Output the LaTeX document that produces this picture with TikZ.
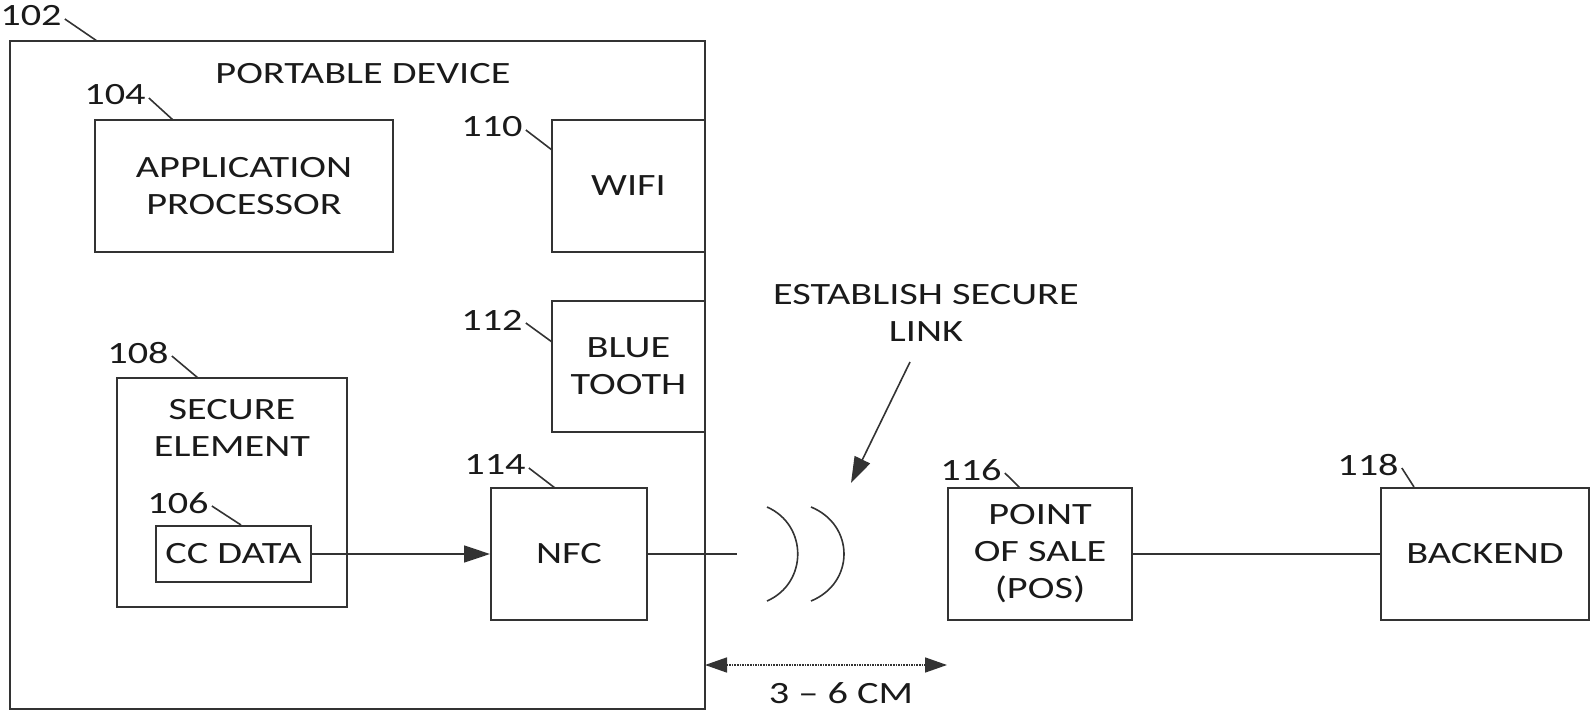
\documentclass[tikz,border=0pt]{standalone}
\usepackage{fontspec}
\setmainfont{Carlito}[FakeStretch=1.3]
\usetikzlibrary{arrows.meta}
\definecolor{ln}{HTML}{333333}
\definecolor{tx}{HTML}{1A1A1A}
\tikzset{
 box/.style={draw=ln, line width=2pt, inner sep=0pt, align=center, text=tx, font=\fontsize{31}{37}\selectfont},
 lbl/.style={inner sep=0pt, align=center, text=tx, font=\fontsize{31}{37}\selectfont},
 lead/.style={draw=ln, line width=1.6pt},
 conn/.style={draw=ln, line width=1.6pt},
 arr/.style={conn, -{Triangle[length=26pt,width=17pt]}},
 darr/.style={conn, densely dotted, {Triangle[length=22pt,width=15pt]}-{Triangle[length=22pt,width=15pt]}},
}
\begin{document}
\begin{tikzpicture}[x=1pt,y=-1pt]
\useasboundingbox (0,0) rectangle (1595,714);
% boxes
\node[box, minimum width=695pt, minimum height=668pt] (outer) at (357.5,375) {};
\node[lbl] (pd) at (363,74) {PORTABLE DEVICE};
\node[box, minimum width=298pt, minimum height=132pt] (ap) at (244,186) {APPLICATION\\PROCESSOR};
\node[box, minimum width=153pt, minimum height=132pt] (wifi) at (628.5,186) {WIFI};
\node[box, minimum width=153pt, minimum height=131pt] (bt) at (628.5,366.5) {BLUE\\TOOTH};
\node[box, minimum width=230pt, minimum height=229pt] (se) at (232,492.5) {};
\node[lbl] (setext) at (232,428) {SECURE\\ELEMENT};
\node[box, minimum width=155pt, minimum height=56pt] (cc) at (233.5,554) {CC DATA};
\node[box, minimum width=156pt, minimum height=132pt] (nfc) at (569,554) {NFC};
\node[box, minimum width=184pt, minimum height=132pt] (pos) at (1040,554) {POINT\\OF SALE\\(POS)};
\node[box, minimum width=208pt, minimum height=132pt] (be) at (1485,554) {BACKEND};
% reference labels
\node[lbl] (l102) at (31,16) {102};
\node[lbl] (l104) at (115,95) {104};
\node[lbl] (l110) at (492,127) {110};
\node[lbl] (l112) at (492,320) {112};
\node[lbl] (l108) at (138,353) {108};
\node[lbl] (l106) at (178,503) {106};
\node[lbl] (l114) at (495,465) {114};
\node[lbl] (l116) at (971,470) {116};
\node[lbl] (l118) at (1368,465) {118};
% leader ends
\coordinate (c102) at (97,41);
\coordinate (c104) at (173,120);
\coordinate (c110) at (552,150);
\coordinate (c112) at (552,342);
\coordinate (c108) at (198,378);
\coordinate (c106) at (241,525);
\coordinate (c114) at (555,488);
\coordinate (c116) at (1020,488);
\coordinate (c118) at (1414,487);
\foreach \n in {102,104,110,112,108,106,114,116,118}{
  \draw[lead] ([shift={(3,3)}]l\n.east) -- (c\n);
}
% connectors
\draw[arr] (cc.east) -- (nfc.west);
\coordinate (wend) at (737,554);
\draw[conn] (nfc.east) -- (wend);
\draw[conn] (pos.east) -- (be.west);
% waves
\coordinate (w1a) at (767,507);
\coordinate (w1b) at (767,601);
\coordinate (w2a) at (811,507);
\coordinate (w2b) at (811,601);
\draw[conn] (w1a) .. controls (808,525) and (808,583) .. (w1b);
\draw[conn] (w2a) .. controls (855,525) and (855,583) .. (w2b);
% establish secure link
\node[lbl] (est) at (926,313) {ESTABLISH SECURE\\LINK};
\coordinate (es) at (910,362);
\coordinate (et) at (851,483);
\draw[arr] (es) -- (et);
% distance
\coordinate (d1) at (705,665);
\coordinate (d2) at (947,665);
\draw[darr] (d1) -- (d2);
\node[lbl] (dist) at (841,693) {3 -- 6 CM};
\end{tikzpicture}
\end{document}
